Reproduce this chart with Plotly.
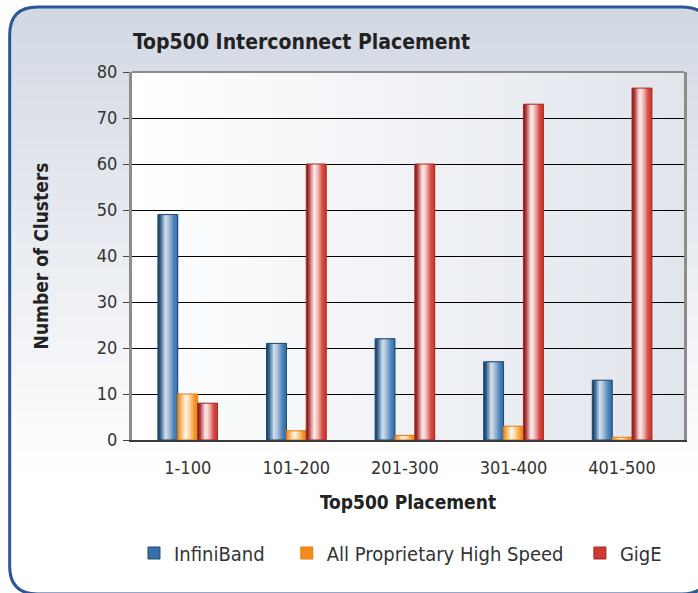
import plotly.graph_objects as go
import math

# ---------------- data ----------------
categories = ["1-100", "101-200", "201-300", "301-400", "401-500"]
infiniband = [49, 21, 22, 17, 13]
proprietary = [10, 2, 1, 3, 0.6]
gige = [8, 60, 60, 73, 76.5]
series_names = ["InfiniBand", "All Proprietary High Speed", "GigE"]
y_ticks = [0, 10, 20, 30, 40, 50, 60, 70, 80]

# ---------------- geometry / style ----------------
W_FIG, H_FIG = 698, 593
L, R, T, B = 132, 11, 72, 153
PW = W_FIG - L - R
PH = H_FIG - T - B
FONT = "Liberation Sans Narrow, Arial Narrow, DejaVu Sans Condensed, sans-serif"
NBSP = "\u00a0"
legend_pad = [3, 2, 0]


def px(x):
    return (x - L) / PW


def py(y):
    return (H_FIG - B - y) / PH


def hex2rgb(h):
    h = h.lstrip('#')
    return tuple(int(h[i:i + 2], 16) for i in (0, 2, 4))


def mix(c1, c2, t):
    a, b = hex2rgb(c1), hex2rgb(c2)
    return "rgb(%d,%d,%d)" % tuple(round(a[i] + (b[i] - a[i]) * t) for i in range(3))


def interp(profile, t):
    for (p0, c0), (p1, c1) in zip(profile, profile[1:]):
        if p0 <= t <= p1:
            return mix(c0, c1, (t - p0) / (p1 - p0) if p1 > p0 else 0)
    return mix(profile[-1][1], profile[-1][1], 0)


profiles = [
    [(0, '#12385a'), (0.12, '#2f5f8c'), (0.38, '#d3dfec'), (0.55, '#a9c0d9'), (0.8, '#4f84ba'), (1, '#3670aa')],
    [(0, '#e9861a'), (0.15, '#f6b460'), (0.4, '#fff8ee'), (0.6, '#fbd39c'), (0.85, '#f39426'), (1, '#f08a1c')],
    [(0, '#6e1414'), (0.12, '#b03838'), (0.4, '#fff4f4'), (0.6, '#eeb0b0'), (0.82, '#d2463e'), (1, '#cc3a31')],
]
outline_colors = ['#1d4a72', '#e27c12', '#a82822']
legend_colors = ['#3a6fa6', '#f18c1c', '#cc3a31']

BW = 0.183
offsets = [-1.5 * BW, -0.5 * BW, 0.5 * BW]
N_STRIPES = 12

fig = go.Figure()
values = [infiniband, proprietary, gige]
for s, vals in enumerate(values):
    for k in range(N_STRIPES):
        fig.add_trace(go.Bar(
            x=categories, y=vals,
            offset=offsets[s] + k * BW / N_STRIPES,
            width=BW - k * BW / N_STRIPES,
            marker=dict(color=interp(profiles[s], (k + 0.5) / N_STRIPES), line=dict(width=0)),
            showlegend=False, hoverinfo='skip'))
    fig.add_trace(go.Bar(
        x=categories, y=vals, offset=offsets[s], width=BW, name=series_names[s],
        marker=dict(color='rgba(0,0,0,0)', line=dict(color=outline_colors[s], width=1)),
        showlegend=False))

for s in range(3):
    fig.add_trace(go.Bar(x=[None], y=[None], name=series_names[s] + NBSP * legend_pad[s],
                         marker=dict(color=legend_colors[s], line=dict(color=outline_colors[s], width=1)),
                         showlegend=True))

shapes = []
# outer gradient with rounded corners
X0, Y0, X1, Y1, RAD = 9, 7, 713, 594, 28
top_c, bot_c = '#d2d8e3', '#ffffff'
y = Y0
step = 3
while y < Y1:
    yc = y + step / 2
    inset = 0
    if yc < Y0 + RAD:
        d = Y0 + RAD - yc
        inset = RAD - math.sqrt(max(RAD ** 2 - d ** 2, 0))
    elif yc > Y1 - RAD:
        d = yc - (Y1 - RAD)
        inset = RAD - math.sqrt(max(RAD ** 2 - d ** 2, 0))
    t = min(max((yc - Y0) / (480 - Y0), 0), 1)
    shapes.append(dict(type='rect', xref='paper', yref='paper', layer='below',
                       x0=px(X0 + inset), x1=px(X1 - inset), y0=py(y), y1=py(y + step + 0.8),
                       fillcolor=mix(top_c, bot_c, t), line=dict(width=0)))
    y += step

# plot area horizontal gradient
n_b = 60
for i in range(n_b):
    xa = L + PW * i / n_b
    xb = L + PW * (i + 1) / n_b + 0.8
    shapes.append(dict(type='rect', xref='paper', yref='paper', layer='below',
                       x0=px(xa), x1=px(min(xb, L + PW)), y0=0, y1=1,
                       fillcolor=mix('#ffffff', '#e1e5ec', (i + 0.5) / n_b), line=dict(width=0)))

# rounded border
path = (f"M {px(X0 + RAD)},{py(Y0)} L {px(X1 - RAD)},{py(Y0)} Q {px(X1)},{py(Y0)} {px(X1)},{py(Y0 + RAD)} "
        f"L {px(X1)},{py(Y1 - RAD)} Q {px(X1)},{py(Y1)} {px(X1 - RAD)},{py(Y1)} "
        f"L {px(X0 + RAD)},{py(Y1)} Q {px(X0)},{py(Y1)} {px(X0)},{py(Y1 - RAD)} "
        f"L {px(X0)},{py(Y0 + RAD)} Q {px(X0)},{py(Y0)} {px(X0 + RAD)},{py(Y0)} Z")
shapes.append(dict(type='path', xref='paper', yref='paper', layer='above', path=path,
                   line=dict(color='#2b5797', width=3)))
# top border of plot
shapes.append(dict(type='line', xref='paper', yref='paper', layer='above', x0=0, x1=1, y0=1, y1=1,
                   line=dict(color='#8c8c8c', width=2)))

fig.update_layout(
    width=W_FIG, height=H_FIG,
    margin=dict(l=L, r=R, t=T, b=B, pad=0),
    paper_bgcolor='white', plot_bgcolor='rgba(0,0,0,0)',
    barmode='overlay',
    font=dict(family=FONT, size=18, color='#333333'),
    title=dict(text="<b>Top500 Interconnect Placement</b>", xref='container', x=133 / W_FIG, xanchor='left',
               yref='container', y=1 - 42 / H_FIG, yanchor='middle', font=dict(size=21, color='#222222')),
    shapes=shapes,
    showlegend=True,
    legend=dict(orientation='h', x=px(134), xanchor='left', y=py(553), yanchor='middle',
                font=dict(size=20, color='#333333'), bgcolor='rgba(0,0,0,0)',
                traceorder='normal', itemwidth=30),
    xaxis=dict(type='category', categoryorder='array', categoryarray=categories,
               range=[-0.513, 4.57], showgrid=False, showline=True, linecolor='#3a3a3a', linewidth=2,
               ticks='', tickfont=dict(size=18, color='#333333'), ticklabelstandoff=10,
               title=dict(text="<b>Top500 Placement</b>", font=dict(size=19, color='#222222'), standoff=19)),
    yaxis=dict(range=[0, 80], tickvals=y_ticks, showgrid=True, gridcolor='#000000', gridwidth=1.3,
               zeroline=False, showline=True, linecolor='#8c8c8c', linewidth=3, mirror=True,
               ticks='outside', ticklen=6, tickcolor='#444444', tickwidth=1,
               tickfont=dict(size=18, color='#333333'), ticklabelstandoff=2,
               title=dict(text="<b>Number of Clusters</b>", font=dict(size=19, color='#222222'), standoff=44)),
)

fig.write_html("out.html", config={"displayModeBar": False},
               post_script="document.body.style.margin='0';document.body.style.overflow='hidden';")
